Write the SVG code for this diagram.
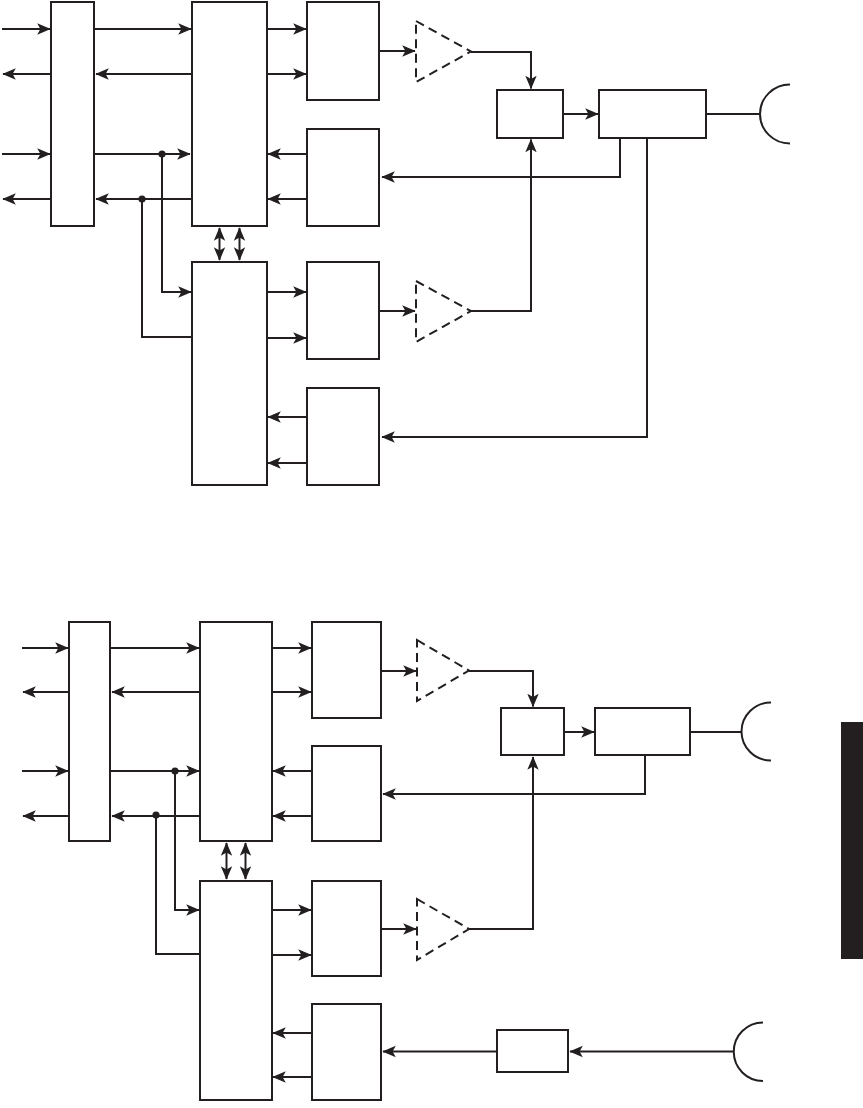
<svg xmlns="http://www.w3.org/2000/svg" width="863" height="1108" viewBox="0 0 863 1108">
<defs>
<marker id="ah" markerUnits="userSpaceOnUse" markerWidth="14" markerHeight="13" viewBox="0 0 14 13" refX="12.8" refY="6.500" orient="auto-start-reverse"><path d="M0 0.800L13.500 6.500L0 12.200L3.200 6.500Z" fill="#231f20"/></marker>
</defs>
<style>
.n{fill:#fff;stroke:#231f20;stroke-width:2}
.d{fill:none;stroke:#231f20;stroke-width:2;stroke-dasharray:9 5.500}
.c{fill:none;stroke:#231f20;stroke-width:2}
.a{marker-end:url(#ah)}
.b{marker-start:url(#ah);marker-end:url(#ah)}
.j{fill:#231f20}
.ant{fill:none;stroke:#231f20;stroke-width:2}
</style>
<rect width="863" height="1108" fill="#fff"/>
<g id="connectors">
<g class="c a">
<path d="M2 29H50"/><path d="M51 74H3"/><path d="M2 154H50"/><path d="M51 199H3"/>
<path d="M94 29H191"/><path d="M192 74H96"/><path d="M94 154H190"/><path d="M192 199H96"/>
<path d="M162 154V292H191"/><path d="M142 199V337H192" style="marker-end:none"/>
<path d="M267 29H306"/><path d="M267 74H306"/><path d="M307 154H268"/><path d="M307 199H268"/>
<path d="M267 292H306"/><path d="M267 338H306"/><path d="M307 417H268"/><path d="M307 463H268"/>
<path d="M379 51H415"/><path d="M379 311H415"/>
<path d="M471 52H531V88.500"/><path d="M471 311H531V139.500"/>
<path d="M563 114H598"/><path d="M620 138V177H382"/><path d="M647 138V437H382"/>
<path d="M22 648H68"/><path d="M69 692H23"/><path d="M22 771H68"/><path d="M69 816H23"/>
<path d="M110 648H199"/><path d="M200 692H112"/><path d="M110 771H199"/><path d="M200 816H112"/>
<path d="M175 771V910H199"/><path d="M156 815V954H200" style="marker-end:none"/>
<path d="M272 648H311"/><path d="M272 692H311"/><path d="M312 771H273"/><path d="M312 816H273"/>
<path d="M272 910H311"/><path d="M272 955H311"/><path d="M312 1033H273"/><path d="M312 1077H273"/>
<path d="M381 671H416"/><path d="M381 929H416"/>
<path d="M469 671H533V706.500"/><path d="M469 929H533V757"/>
<path d="M564 732H594"/><path d="M645 755V794H383"/>
<path d="M734 1051.500H570"/><path d="M497 1051.500H383"/>
</g>
<g class="c b">
<path d="M219.500 228V260"/><path d="M239.500 228V260"/>
<path d="M226.500 843V879"/><path d="M245.500 843V879"/>
</g>
<g class="c"><path d="M706 114H760"/><path d="M690 732H742"/></g>
<circle class="j" cx="162" cy="154" r="3.600"/><circle class="j" cx="142" cy="199" r="3.600"/>
<circle class="j" cx="175" cy="771" r="3.600"/><circle class="j" cx="156" cy="815" r="3.600"/>
</g>
<g id="top-a"><rect class="n" x="51" y="2" width="43" height="224"/></g>
<g id="top-b"><rect class="n" x="192" y="2" width="75" height="224"/></g>
<g id="top-c"><rect class="n" x="192" y="262" width="75" height="223"/></g>
<g id="top-d1"><rect class="n" x="307" y="2" width="72" height="98"/></g>
<g id="top-d2"><rect class="n" x="307" y="129" width="72" height="97"/></g>
<g id="top-d3"><rect class="n" x="307" y="262" width="72" height="97"/></g>
<g id="top-d4"><rect class="n" x="307" y="388" width="72" height="97"/></g>
<g id="top-amp1"><path class="d" d="M416 21L471 51.500L416 82Z"/></g>
<g id="top-amp2"><path class="d" d="M416 281L471 311L416 342Z"/></g>
<g id="top-e"><rect class="n" x="497" y="90" width="66" height="48"/></g>
<g id="top-f"><rect class="n" x="599" y="90" width="107" height="48"/></g>
<g id="top-antenna"><path class="ant" d="M790 84.500A30 29.500 0 0 0 790 143.500"/></g>
<g id="bot-a"><rect class="n" x="69" y="622" width="41" height="219"/></g>
<g id="bot-b"><rect class="n" x="200" y="622" width="72" height="219"/></g>
<g id="bot-c"><rect class="n" x="200" y="881" width="72" height="219"/></g>
<g id="bot-d1"><rect class="n" x="312" y="622" width="69" height="96"/></g>
<g id="bot-d2"><rect class="n" x="312" y="746" width="69" height="95"/></g>
<g id="bot-d3"><rect class="n" x="312" y="881" width="69" height="95"/></g>
<g id="bot-d4"><rect class="n" x="312" y="1004" width="69" height="96"/></g>
<g id="bot-amp1"><path class="d" d="M417 640L469 670.500L417 701Z"/></g>
<g id="bot-amp2"><path class="d" d="M417 899L469 929L417 960Z"/></g>
<g id="bot-e"><rect class="n" x="501" y="708" width="63" height="47"/></g>
<g id="bot-f"><rect class="n" x="595" y="708" width="95" height="47"/></g>
<g id="bot-g"><rect class="n" x="497" y="1030" width="71" height="42"/></g>
<g id="bot-antenna1"><path class="ant" d="M771 702.500A29.500 29 0 0 0 771 760.500"/></g>
<g id="bot-antenna2"><path class="ant" d="M763 1022.500A29 29 0 0 0 763 1081"/></g>
<g id="tab"><rect x="841" y="722" width="22" height="237" fill="#231f20"/></g>
</svg>
